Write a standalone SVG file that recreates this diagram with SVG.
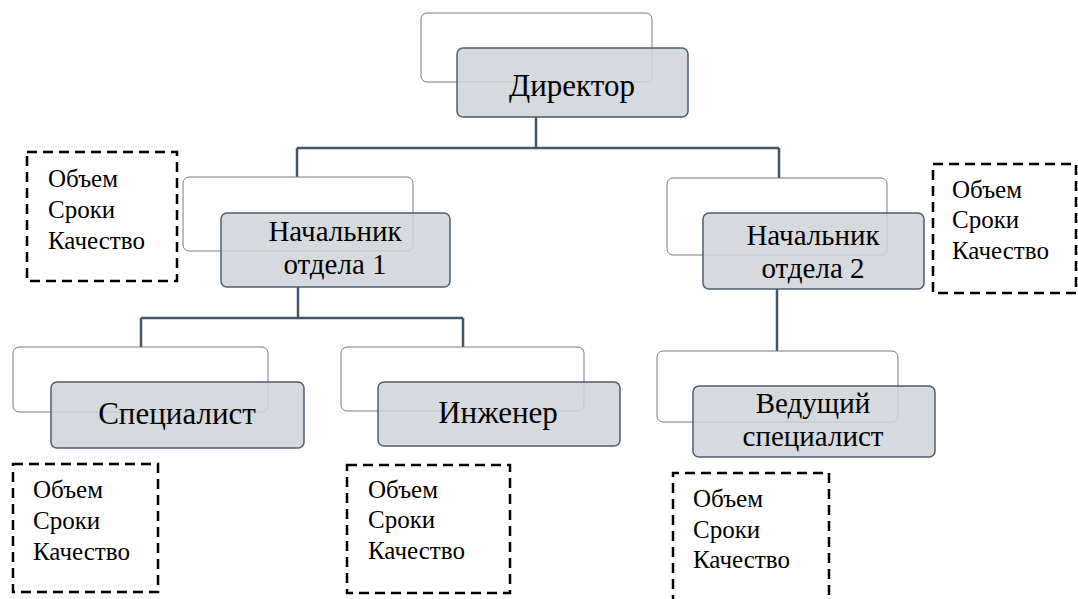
<svg xmlns="http://www.w3.org/2000/svg" width="1078" height="599" viewBox="0 0 1078 599">
<style>
.back{fill:#ffffff;stroke:#7a7a7a;stroke-width:1}
.front{fill:#cfd2d7;fill-opacity:0.85;stroke:#4d5d72;stroke-width:1.5}
.conn{fill:none;stroke:#44546a;stroke-width:2.5}
.dash{fill:none;stroke:#000;stroke-width:2.5;stroke-dasharray:10 6}
.t{font-family:'Liberation Serif','Times New Roman',serif;font-size:31px;fill:#000;text-anchor:middle}
.t2{font-family:'Liberation Serif','Times New Roman',serif;font-size:29px;fill:#000;text-anchor:middle}
.s{font-family:'Liberation Serif','Times New Roman',serif;font-size:25px;fill:#000}
</style>
<rect width="1078" height="599" fill="#fff"/>
<g id="connectors">
<path class="conn" d="M536 117V148M297 148H779M297 148V177M779 148V178"/>
<path class="conn" d="M298 287V318M141 318H463M141 318V347M463 318V347"/>
<path class="conn" d="M777 289V351"/>
</g>
<g id="director">
<rect class="back" x="421" y="13" width="231" height="69" rx="6"/>
<rect class="front" x="457" y="48" width="231" height="69" rx="6"/>
<text class="t" x="572" y="96">Директор</text>
</g>
<g id="head1">
<rect class="back" x="183" y="177" width="230" height="74" rx="6"/>
<rect class="front" x="221" y="213" width="229" height="74" rx="6"/>
<text class="t2" x="335" y="241">Начальник</text>
<text class="t2" x="335" y="274">отдела 1</text>
</g>
<g id="head2">
<rect class="back" x="667" y="178" width="220" height="77" rx="6"/>
<rect class="front" x="703" y="213" width="221" height="76" rx="6"/>
<text class="t2" x="813" y="245">Начальник</text>
<text class="t2" x="813" y="278">отдела 2</text>
</g>
<g id="specialist">
<rect class="back" x="13" y="347" width="255" height="65" rx="6"/>
<rect class="front" x="51" y="382" width="253" height="66" rx="6"/>
<text class="t" x="177" y="424">Специалист</text>
</g>
<g id="engineer">
<rect class="back" x="341" y="347" width="243" height="64" rx="6"/>
<rect class="front" x="378" y="382" width="242" height="64" rx="6"/>
<text class="t" x="498" y="423">Инженер</text>
</g>
<g id="lead">
<rect class="back" x="657" y="351" width="241" height="71" rx="6"/>
<rect class="front" x="693" y="386" width="242" height="71" rx="6"/>
<text class="t2" x="813" y="413">Ведущий</text>
<text class="t2" x="813" y="446">специалист</text>
</g>
<g id="kpi-head1">
<rect class="dash" x="27" y="152" width="150" height="129"/>
<text class="s" x="48" y="187">Объем</text>
<text class="s" x="48" y="218">Сроки</text>
<text class="s" x="48" y="249">Качество</text>
</g>
<g id="kpi-head2">
<rect class="dash" x="933" y="164" width="143" height="129"/>
<text class="s" x="952" y="198">Объем</text>
<text class="s" x="952" y="228">Сроки</text>
<text class="s" x="952" y="259">Качество</text>
</g>
<g id="kpi-specialist">
<rect class="dash" x="13" y="464" width="145" height="128"/>
<text class="s" x="33" y="498">Объем</text>
<text class="s" x="33" y="529">Сроки</text>
<text class="s" x="33" y="560">Качество</text>
</g>
<g id="kpi-engineer">
<rect class="dash" x="347" y="465" width="163" height="128"/>
<text class="s" x="368" y="498">Объем</text>
<text class="s" x="368" y="528">Сроки</text>
<text class="s" x="368" y="559">Качество</text>
</g>
<g id="kpi-lead">
<path class="dash" d="M673 605V473H829V605"/>
<text class="s" x="693" y="507">Объем</text>
<text class="s" x="693" y="538">Сроки</text>
<text class="s" x="693" y="568">Качество</text>
</g>
</svg>
